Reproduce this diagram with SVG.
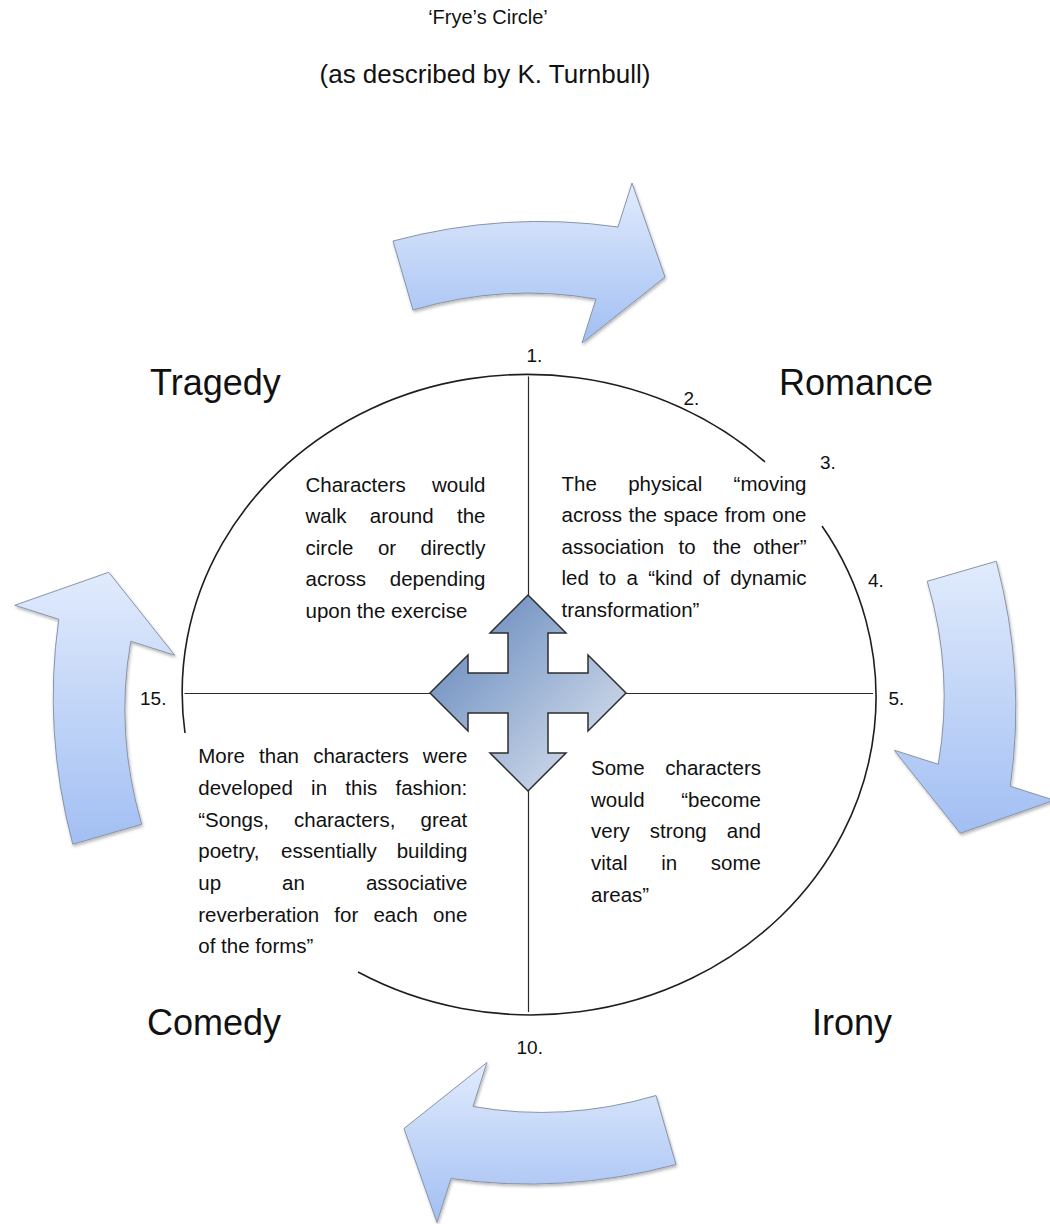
<svg xmlns="http://www.w3.org/2000/svg" width="1050" height="1224" viewBox="0 0 1050 1224">
<defs>
<linearGradient id="gArrow" x1="0" y1="0" x2="0" y2="1">
<stop offset="0" stop-color="#e1ebfc"/>
<stop offset="1" stop-color="#a2bff3"/>
</linearGradient>
<linearGradient id="gCross" x1="0" y1="0" x2="1" y2="1">
<stop offset="0" stop-color="#5a80b8"/>
<stop offset="1" stop-color="#e4eaf3"/>
</linearGradient>
<filter id="sh" x="-10%" y="-10%" width="125%" height="125%">
<feDropShadow dx="1" dy="2" stdDeviation="1.5" flood-color="#000" flood-opacity="0.28"/>
</filter>
<style>
.t{font-family:"Liberation Sans",Arial,sans-serif;fill:#111}
.p{font-size:20.5px}
.n{font-size:19px}
.big{font-size:36px}
.e{text-anchor:end}
.m{text-anchor:middle}
.arw{fill:url(#gArrow);stroke:#8794a8;stroke-width:1;filter:url(#sh)}
.ln{fill:none;stroke:#1e1e1e;stroke-width:1.6}
.ax{fill:none;stroke:#2a2a2a;stroke-width:1.2}
</style>
</defs>
<rect width="1050" height="1224" fill="#fff"/>

<g id="title">
<text class="t m" x="488" y="24" font-size="20">‘Frye’s Circle’</text>
<text class="t m" x="485" y="83" font-size="26">(as described by K. Turnbull)</text>
</g>

<g id="connectors">
<path id="arrow-top" class="arw" d="M393,241 Q505.5,211 618,227 L632,183 L665,277 L582,343 L596,299 Q504.5,283 413,310 Z"/>
<path id="arrow-right" class="arw" d="M996.25,561.25 Q1026.25,673.75 1010.25,786.25 L1054.25,800.25 L960.25,833.25 L894.25,750.25 L938.25,764.25 Q954.25,672.75 927.25,581.25 Z"/>
<path id="arrow-bottom" class="arw" d="M676,1164.5 Q563.5,1194.5 451,1178.5 L437,1222.5 L404,1128.5 L487,1062.5 L473,1106.5 Q564.5,1122.5 656,1095.5 Z"/>
<path id="arrow-left" class="arw" d="M72.75,844.25 Q42.75,731.75 58.75,619.25 L14.75,605.25 L108.75,572.25 L174.75,655.25 L130.75,641.25 Q114.75,732.75 141.75,824.25 Z"/>
</g>

<g id="circle">
<path class="ln" d="M185,733 A345,318 0 0 1 765,462"/>
<path class="ln" d="M822,526 A345,318 0 0 1 358,972"/>
<line class="ax" x1="528.5" y1="376.5" x2="528.5" y2="1012"/>
<line class="ax" x1="184.5" y1="693.5" x2="873" y2="693.5"/>
</g>

<g id="cross">
<path d="M528,595 L566,633 L548,633 L548,673 L588,673 L588,655 L626,693 L588,731 L588,713 L548,713 L548,753 L566,753 L528,791 L490,753 L508,753 L508,713 L468,713 L468,731 L430,693 L468,655 L468,673 L508,673 L508,633 L490,633 Z" fill="url(#gCross)" stroke="#2e2e2e" stroke-width="1.5" stroke-linejoin="miter"/>
</g>

<g id="labels">
<text class="t big" x="150" y="395">Tragedy</text>
<text class="t big" x="779" y="395">Romance</text>
<text class="t big" x="147" y="1035">Comedy</text>
<text class="t big" x="812" y="1035">Irony</text>
</g>

<g id="numbers">
<text class="t n" x="526.5" y="361.5">1.</text>
<text class="t n" x="683.5" y="405">2.</text>
<text class="t n" x="820" y="468.5">3.</text>
<text class="t n" x="868" y="586.5">4.</text>
<text class="t n" x="888.5" y="705">5.</text>
<text class="t n" x="140" y="705">15.</text>
<text class="t n" x="516.5" y="1053.5">10.</text>
</g>

<g id="tragedy-text" class="t p">
<text x="305.5" y="491.5">Characters</text><text class="e" x="485.5" y="491.5">would</text>
<text x="305.5" y="523">walk</text><text class="m" x="401.7" y="523">around</text><text class="e" x="485.5" y="523">the</text>
<text x="305.5" y="554.5">circle</text><text class="m" x="387" y="554.5">or</text><text class="e" x="485.5" y="554.5">directly</text>
<text x="305.5" y="586">across</text><text class="e" x="485.5" y="586">depending</text>
<text x="305.5" y="617.5">upon the exercise</text>
</g>

<g id="romance-text" class="t p">
<text x="561.5" y="491">The</text><text class="m" x="665.2" y="491">physical</text><text class="e" x="806.5" y="491">“moving</text>
<text x="561.5" y="522">across</text><text class="m" x="642.7" y="522">the</text><text class="m" x="690.9" y="522">space</text><text class="m" x="745.2" y="522">from</text><text class="e" x="806.5" y="522">one</text>
<text x="561.5" y="553.5">association</text><text class="m" x="687" y="553.5">to</text><text class="m" x="727" y="553.5">the</text><text class="e" x="806.5" y="553.5">other”</text>
<text x="561.5" y="585">led</text><text class="m" x="607.6" y="585">to</text><text class="m" x="632.2" y="585">a</text><text class="m" x="670.4" y="585">“kind</text><text class="m" x="711.4" y="585">of</text><text class="e" x="806.5" y="585">dynamic</text>
<text x="561.5" y="616.5">transformation”</text>
</g>

<g id="irony-text" class="t p">
<text x="591" y="775">Some</text><text class="e" x="761" y="775">characters</text>
<text x="591" y="806.5">would</text><text class="e" x="761" y="806.5">“become</text>
<text x="591" y="838">very</text><text class="m" x="678.3" y="838">strong</text><text class="e" x="761" y="838">and</text>
<text x="591" y="870">vital</text><text class="m" x="669.2" y="870">in</text><text class="e" x="761" y="870">some</text>
<text x="591" y="901.5">areas”</text>
</g>

<g id="comedy-text" class="t p">
<text x="198.3" y="763.3">More</text><text class="m" x="279" y="763.3">than</text><text class="m" x="361" y="763.3">characters</text><text class="e" x="467.3" y="763.3">were</text>
<text x="198.3" y="795">developed</text><text class="m" x="319.1" y="795">in</text><text class="m" x="361.3" y="795">this</text><text class="e" x="467.3" y="795">fashion:</text>
<text x="198.3" y="826.7">“Songs,</text><text class="m" x="344.7" y="826.7">characters,</text><text class="e" x="467.3" y="826.7">great</text>
<text x="198.3" y="858.3">poetry,</text><text class="m" x="328.9" y="858.3">essentially</text><text class="e" x="467.3" y="858.3">building</text>
<text x="198.3" y="890">up</text><text class="m" x="293.5" y="890">an</text><text class="e" x="467.3" y="890">associative</text>
<text x="198.3" y="921.7">reverberation</text><text class="m" x="346.3" y="921.7">for</text><text class="m" x="395.7" y="921.7">each</text><text class="e" x="467.3" y="921.7">one</text>
<text x="198.3" y="953.3">of the forms”</text>
</g>
</svg>
